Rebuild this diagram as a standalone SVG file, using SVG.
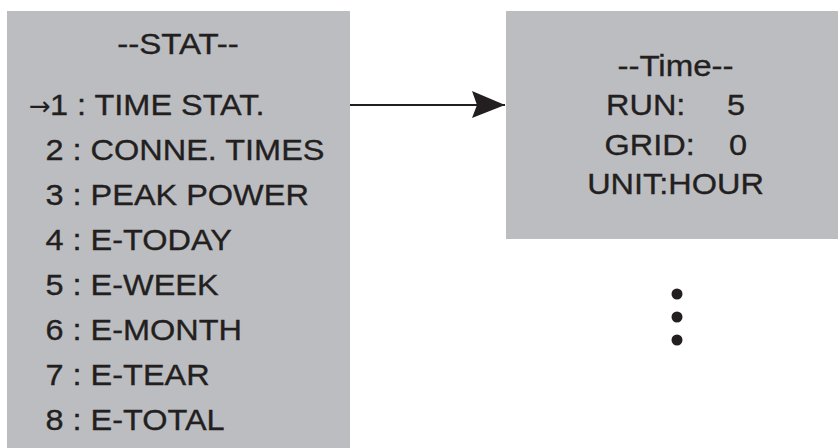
<svg xmlns="http://www.w3.org/2000/svg" width="838" height="448" viewBox="0 0 838 448">
<style>
.box{fill:#bcbdc1;}
.t{font-family:"Liberation Sans",Arial,sans-serif;font-size:29px;fill:#231f20;stroke:#231f20;stroke-width:0.35px;}
.c{text-anchor:middle;}
.arr{font-family:"DejaVu Sans","Liberation Sans",sans-serif;font-size:26px;fill:#231f20;}
.conn{stroke:#231f20;stroke-width:2;fill:none;}
.dot{fill:#231f20;}
</style>
<defs>
<marker id="ah" markerUnits="userSpaceOnUse" markerWidth="36" markerHeight="30" refX="33" refY="14" orient="auto">
<path d="M0,0 L33,14 L0,27 L5,14 Z" fill="#231f20"/>
</marker>
</defs>
<rect width="838" height="448" fill="#ffffff"/>
<g id="stat-menu">
<rect class="box" x="7" y="11" width="343" height="437"/>
<text class="t c" transform="translate(178,54) scale(1.14,1)" x="0" y="0">--STAT--</text>
<text class="arr" x="29" y="115">→</text>
<text class="t" transform="translate(50,115) scale(1.12,1)" x="0" y="0">1 : TIME STAT.</text>
<text class="t" transform="translate(45.5,160) scale(1.12,1)" x="0" y="0">2 : CONNE. TIMES</text>
<text class="t" transform="translate(45.5,205) scale(1.12,1)" x="0" y="0">3 : PEAK POWER</text>
<text class="t" transform="translate(45.5,250) scale(1.12,1)" x="0" y="0">4 : E-TODAY</text>
<text class="t" transform="translate(45.5,295) scale(1.12,1)" x="0" y="0">5 : E-WEEK</text>
<text class="t" transform="translate(45.5,340) scale(1.12,1)" x="0" y="0">6 : E-MONTH</text>
<text class="t" transform="translate(45.5,385) scale(1.12,1)" x="0" y="0">7 : E-TEAR</text>
<text class="t" transform="translate(45.5,430) scale(1.12,1)" x="0" y="0">8 : E-TOTAL</text>
</g>
<g id="time-screen">
<rect class="box" x="506" y="11" width="332" height="228"/>
<text class="t c" transform="translate(675.5,76) scale(1.14,1)" x="0" y="0">--Time--</text>
<text class="t" transform="translate(606,115) scale(1.12,1)" x="0" y="0">RUN:</text>
<text class="t" transform="translate(727,115) scale(1.12,1)" x="0" y="0">5</text>
<text class="t" transform="translate(604.5,155) scale(1.12,1)" x="0" y="0">GRID:</text>
<text class="t" transform="translate(729,155) scale(1.12,1)" x="0" y="0">0</text>
<text class="t c" transform="translate(675.5,194) scale(1.12,1)" x="0" y="0">UNIT:HOUR</text>
</g>
<g id="more">
<circle class="dot" cx="677" cy="294" r="5.5"/>
<circle class="dot" cx="677" cy="317" r="5.5"/>
<circle class="dot" cx="677" cy="340" r="5.5"/>
</g>
<g id="connectors">
<line class="conn" x1="350" y1="105" x2="505" y2="105" marker-end="url(#ah)"/>
</g>
</svg>
